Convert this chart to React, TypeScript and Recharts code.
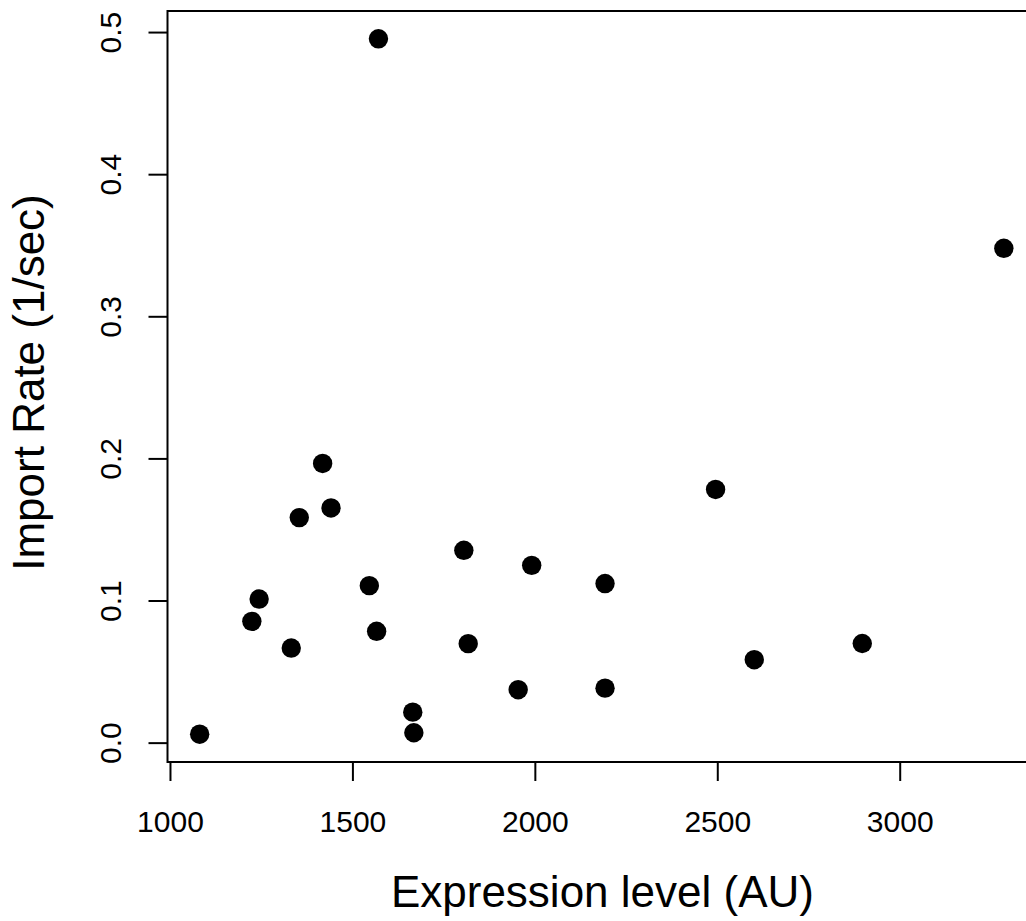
import React from "react";
import {
  ScatterChart,
  Scatter,
  XAxis,
  YAxis,
  ReferenceArea,
  Label,
} from "recharts";

// Expression level (AU) and import rate (1/sec)
const expression = [
  1080, 1223, 1243, 1331, 1353, 1417, 1440, 1545, 1565, 1570, 1664, 1667,
  1804, 1816, 1953, 1990, 2191, 2191, 2494, 2600, 2896, 3284,
];
const importRate = [
  0.0063, 0.0857, 0.1014, 0.0669, 0.1587, 0.1968, 0.1655, 0.1108, 0.0787,
  0.4956, 0.0218, 0.0073, 0.1357, 0.07, 0.0376, 0.1251, 0.1123, 0.0387,
  0.1785, 0.0587, 0.0701, 0.3482,
];

const xTicks = [1000, 1500, 2000, 2500, 3000];
const yTicks = [0, 0.1, 0.2, 0.3, 0.4, 0.5];

const FONT = '"Liberation Sans", Arial, Helvetica, sans-serif';

// R-style axis range: data range padded by 4% on each side
function rRange(values: number[]): [number, number] {
  const lo = Math.min(...values);
  const hi = Math.max(...values);
  const pad = (hi - lo) * 0.04;
  return [lo - pad, hi + pad];
}

const xDomain = rRange(expression);
const yDomain = rRange(importRate);

const data = expression.map((x, i) => ({ x, y: importRate[i] }));

function XTick(props: any) {
  const { x, y, payload } = props;
  return (
    <text
      x={x}
      y={y + 50.7}
      textAnchor="middle"
      fontSize={30}
      fontFamily={FONT}
      fill="#000"
    >
      {payload.value}
    </text>
  );
}

function YTick(props: any) {
  const { x, y, payload } = props;
  const bx = x - 27.3;
  return (
    <text
      x={bx}
      y={y}
      transform={`rotate(-90, ${bx}, ${y})`}
      textAnchor="middle"
      fontSize={30}
      fontFamily={FONT}
      fill="#000"
    >
      {Number(payload.value).toFixed(1)}
    </text>
  );
}

const Dot = (props: any) => (
  <circle cx={props.cx} cy={props.cy} r={9.7} fill="#000" />
);

export default function App() {
  return (
    <div
      style={{
        position: "fixed",
        top: 0,
        left: 0,
        width: 1026,
        height: 921,
        overflow: "hidden",
        background: "#fff",
      }}
    >
      <ScatterChart
        width={1050}
        height={921}
        margin={{ top: 11, right: 14, bottom: 0, left: 0 }}
      >
        <XAxis
          type="number"
          dataKey="x"
          domain={xDomain}
          ticks={xTicks}
          allowDataOverflow
          axisLine={false}
          tickLine={{ stroke: "#000", strokeWidth: 2 }}
          tickSize={19}
          tickMargin={0}
          tick={<XTick />}
          height={159}
          interval={0}
        >
          <Label
            content={(p: any) => {
              const vb = p.viewBox;
              return (
                <text
                  x={vb.x + vb.width / 2 + 0.7}
                  y={907.3}
                  textAnchor="middle"
                  fontSize={44}
                  fontFamily={FONT}
                  fill="#000"
                >
                  Expression level (AU)
                </text>
              );
            }}
          />
        </XAxis>
        <YAxis
          type="number"
          dataKey="y"
          domain={yDomain}
          ticks={yTicks}
          allowDataOverflow
          axisLine={false}
          tickLine={{ stroke: "#000", strokeWidth: 2 }}
          tickSize={19}
          tickMargin={0}
          tick={<YTick />}
          width={167.5}
          interval={0}
        >
          <Label
            content={() => (
              <text
                x={43.5}
                y={382.5}
                transform="rotate(-90, 43.5, 382.5)"
                textAnchor="middle"
                fontSize={44}
                fontFamily={FONT}
                fill="#000"
              >
                Import Rate (1/sec)
              </text>
            )}
          />
        </YAxis>
        <ReferenceArea
          x1={xDomain[0]}
          x2={xDomain[1]}
          y1={yDomain[0]}
          y2={yDomain[1]}
          fill="none"
          stroke="#000"
          strokeWidth={2}
          ifOverflow="visible"
        />
        <Scatter data={data} shape={<Dot />} isAnimationActive={false} />
      </ScatterChart>
    </div>
  );
}
